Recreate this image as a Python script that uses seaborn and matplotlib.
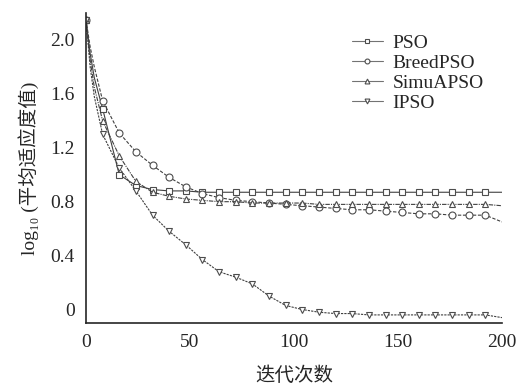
import numpy as np
import pandas as pd
import matplotlib
matplotlib.use('Agg')
import matplotlib.pyplot as plt
import seaborn as sns

# --- data ---
iters = [0, 2, 4, 8, 16, 24, 32, 40, 48, 56, 64, 72, 80, 88, 96, 104,
         112, 120, 128, 136, 144, 152, 160, 168, 176, 184, 192, 200]

pso = [2.15, 1.90, 1.72, 1.49, 1.00, 0.92, 0.89, 0.88, 0.88, 0.87, 0.87, 0.87, 0.87, 0.87,
       0.87, 0.87, 0.87, 0.87, 0.87, 0.87, 0.87, 0.87, 0.87, 0.87, 0.87, 0.87, 0.87, 0.87]
breed_pso = [2.15, 1.95, 1.80, 1.55, 1.31, 1.17, 1.07, 0.98, 0.91, 0.86, 0.83, 0.81, 0.80, 0.79,
             0.78, 0.77, 0.76, 0.75, 0.74, 0.74, 0.73, 0.72, 0.71, 0.71, 0.70, 0.70, 0.70, 0.65]
simua_pso = [2.15, 1.85, 1.65, 1.40, 1.14, 0.95, 0.87, 0.84, 0.82, 0.81, 0.80, 0.80, 0.79, 0.79,
             0.79, 0.79, 0.78, 0.78, 0.78, 0.78, 0.78, 0.78, 0.78, 0.78, 0.78, 0.78, 0.78, 0.77]
ipso = [2.15, 1.80, 1.58, 1.30, 1.05, 0.88, 0.70, 0.58, 0.48, 0.37, 0.28, 0.24, 0.19, 0.10,
        0.03, 0.00, -0.02, -0.03, -0.03, -0.04, -0.04, -0.04, -0.04, -0.04, -0.04, -0.04, -0.04, -0.06]

labels = ['PSO', 'BreedPSO', 'SimuAPSO', 'IPSO']
series = [pso, breed_pso, simua_pso, ipso]
markers = ['s', 'o', '^', 'v']
styles = ['-', (0, (3, 1.5)), (0, (4, 1, 1, 1)), (0, (2, 1))]

x_ticks = [0, 50, 100, 150, 200]
y_ticks = [0, 0.4, 0.8, 1.2, 1.6, 2.0]
y_tick_labels = ['0', '0.4', '0.8', '1.2', '1.6', '2.0']

# --- plot ---
sns.set_style('white')
plt.rcParams['font.family'] = ['Liberation Serif', 'DejaVu Serif', 'Noto Sans CJK SC']

fig = plt.figure(figsize=(5.17, 3.90), dpi=100)
ax = fig.add_axes([0.1663, 0.1718, 0.971 - 0.1663, 0.9667 - 0.1718])

mark_idx = [0] + list(range(3, len(iters) - 1))
for vals, lab, mk, ls in zip(series, labels, markers, styles):
    sns.lineplot(x=iters, y=vals, ax=ax, label=lab, color='0.25', linewidth=0.8,
                 linestyle=ls, marker=mk, markersize=5, markerfacecolor='white',
                 markeredgecolor='0.3', markeredgewidth=0.8, markevery=mark_idx)

ax.set_xlim(0, 200)
ax.set_ylim(-0.1, 2.2)
ax.set_xticks(x_ticks)
ax.set_yticks(y_ticks)
ax.set_yticklabels(y_tick_labels)
ax.tick_params(direction='in', length=4, width=1, labelsize=14, pad=8)
for side in ['top', 'right']:
    ax.spines[side].set_visible(False)
for side in ['left', 'bottom']:
    ax.spines[side].set_linewidth(1.2)
    ax.spines[side].set_color('0.15')

ax.set_xlabel('迭代次数', fontsize=14, family=['Noto Sans CJK SC'], labelpad=10)
ax.set_ylabel('log₁₀ (平均适应度值)', fontsize=14, labelpad=8)

leg = ax.legend(loc='upper left', bbox_to_anchor=(0.615, 0.962), frameon=False, fontsize=14,
                handlelength=1.6, handletextpad=0.5, labelspacing=0.12, borderpad=0)
for h in leg.legend_handles:
    h.set_linestyle('-')
    h.set_color('0.45')
    h.set_markersize(3.5)

fig.savefig('out.png', dpi=100)
